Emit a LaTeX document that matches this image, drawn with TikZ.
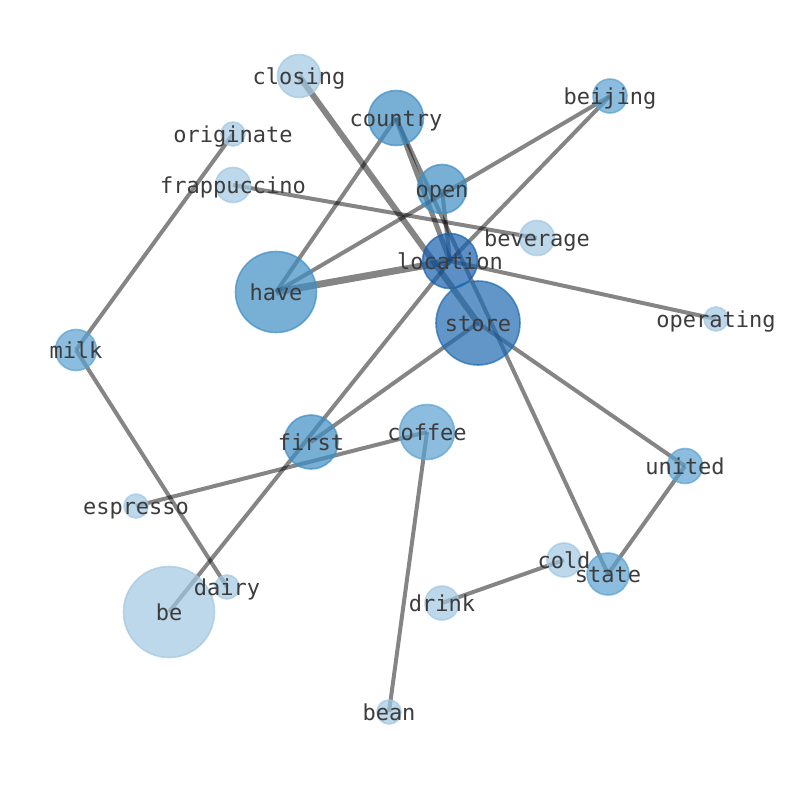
\documentclass[tikz,border=0pt]{standalone}
\usepackage{fontspec}
\setmonofont{DejaVu Sans Mono}
\definecolor{cA}{RGB}{161,199,225}
\definecolor{cB}{RGB}{91,161,208}
\definecolor{cC}{RGB}{62,141,195}
\definecolor{cD}{RGB}{31,106,176}
\definecolor{cE}{RGB}{22,96,172}
\definecolor{txt}{RGB}{60,60,60}
\tikzset{
  edge/.style={draw=black, draw opacity=0.48, line width=4bp},
  vtx/.style={circle, inner sep=0pt, line width=1.6bp, fill opacity=0.7, draw opacity=0.7},
  lvA/.style={vtx, fill=cA, draw=cA},
  lvB/.style={vtx, fill=cB, draw=cB},
  lvC/.style={vtx, fill=cC, draw=cC},
  lvD/.style={vtx, fill=cD, draw=cD},
  lvE/.style={vtx, fill=cE, draw=cE},
  lab/.style={anchor=base, inner sep=0pt, text=txt, font=\ttfamily\fontsize{22bp}{26bp}\selectfont}
}
\begin{document}
\begin{tikzpicture}[x=1bp, y=-1bp]
\useasboundingbox (0,0) rectangle (794,790);
% positions
\coordinate (closing) at (299,76);
\coordinate (country) at (396,118);
\coordinate (beijing) at (610,96);
\coordinate (originate) at (233,134);
\coordinate (frappuccino) at (233,185);
\coordinate (open) at (442,189);
\coordinate (beverage) at (537,238);
\coordinate (location) at (450,261);
\coordinate (have) at (276,292);
\coordinate (store) at (478,323);
\coordinate (operating) at (716,319);
\coordinate (milk) at (76,350);
\coordinate (coffee) at (427,432);
\coordinate (first) at (311,442);
\coordinate (united) at (685,466);
\coordinate (espresso) at (136,506);
\coordinate (cold) at (564,560);
\coordinate (state) at (608,574);
\coordinate (dairy) at (227,587);
\coordinate (be) at (169,612);
\coordinate (drink) at (442,603);
\coordinate (bean) at (389,712);
% edges
\draw[edge, line width=6bp] (closing) -- (store);
\draw[edge] (country) -- (have);
\draw[edge, line width=5bp] (country) -- (location);
\draw[edge] (country) -- (state);
\draw[edge, line width=7bp] (have) -- (location);
\draw[edge] (have) -- (beijing);
\draw[edge] (location) -- (beijing);
\draw[edge] (open) -- (location);
\draw[edge] (frappuccino) -- (beverage);
\draw[edge] (location) -- (operating);
\draw[edge] (be) -- (location);
\draw[edge] (first) -- (store);
\draw[edge] (espresso) -- (coffee);
\draw[edge] (coffee) -- (bean);
\draw[edge] (drink) -- (cold);
\draw[edge] (store) -- (united);
\draw[edge] (united) -- (state);
\draw[edge] (milk) -- (originate);
\draw[edge] (milk) -- (dairy);
% nodes
\node[lvA, minimum size=43bp] (n-closing) at (closing) {};
\node[lvC, minimum size=55bp] (n-country) at (country) {};
\node[lvB, minimum size=34bp] (n-beijing) at (beijing) {};
\node[lvA, minimum size=24bp] (n-originate) at (originate) {};
\node[lvA, minimum size=35bp] (n-frappuccino) at (frappuccino) {};
\node[lvC, minimum size=49bp] (n-open) at (open) {};
\node[lvA, minimum size=35bp] (n-beverage) at (beverage) {};
\node[lvE, minimum size=55bp] (n-location) at (location) {};
\node[lvC, minimum size=81bp] (n-have) at (have) {};
\node[lvD, minimum size=84bp] (n-store) at (store) {};
\node[lvA, minimum size=24bp] (n-operating) at (operating) {};
\node[lvB, minimum size=41bp] (n-milk) at (milk) {};
\node[lvB, minimum size=55bp] (n-coffee) at (coffee) {};
\node[lvC, minimum size=54bp] (n-first) at (first) {};
\node[lvB, minimum size=35bp] (n-united) at (united) {};
\node[lvA, minimum size=24bp] (n-espresso) at (espresso) {};
\node[lvA, minimum size=34bp] (n-cold) at (cold) {};
\node[lvB, minimum size=42bp] (n-state) at (state) {};
\node[lvA, minimum size=24bp] (n-dairy) at (dairy) {};
\node[lvA, minimum size=91bp] (n-be) at (be) {};
\node[lvA, minimum size=34bp] (n-drink) at (drink) {};
\node[lvA, minimum size=24bp] (n-bean) at (bean) {};
% labels
\node[lab] (t-closing) at ([yshift=-8bp]closing) {closing};
\node[lab] (t-country) at ([yshift=-8bp]country) {country};
\node[lab] (t-beijing) at ([yshift=-8bp]beijing) {beijing};
\node[lab] (t-originate) at ([yshift=-8bp]originate) {originate};
\node[lab] (t-frappuccino) at ([yshift=-8bp]frappuccino) {frappuccino};
\node[lab] (t-open) at ([yshift=-8bp]open) {open};
\node[lab] (t-beverage) at ([yshift=-8bp]beverage) {beverage};
\node[lab] (t-location) at ([yshift=-8bp]location) {location};
\node[lab] (t-have) at ([yshift=-8bp]have) {have};
\node[lab] (t-store) at ([yshift=-8bp]store) {store};
\node[lab] (t-operating) at ([yshift=-8bp]operating) {operating};
\node[lab] (t-milk) at ([yshift=-8bp]milk) {milk};
\node[lab] (t-coffee) at ([yshift=-8bp]coffee) {coffee};
\node[lab] (t-first) at ([yshift=-8bp]first) {first};
\node[lab] (t-united) at ([yshift=-8bp]united) {united};
\node[lab] (t-espresso) at ([yshift=-8bp]espresso) {espresso};
\node[lab] (t-cold) at ([yshift=-8bp]cold) {cold};
\node[lab] (t-state) at ([yshift=-8bp]state) {state};
\node[lab] (t-dairy) at ([yshift=-8bp]dairy) {dairy};
\node[lab] (t-be) at ([yshift=-8bp]be) {be};
\node[lab] (t-drink) at ([yshift=-8bp]drink) {drink};
\node[lab] (t-bean) at ([yshift=-8bp]bean) {bean};
\end{tikzpicture}
\end{document}
